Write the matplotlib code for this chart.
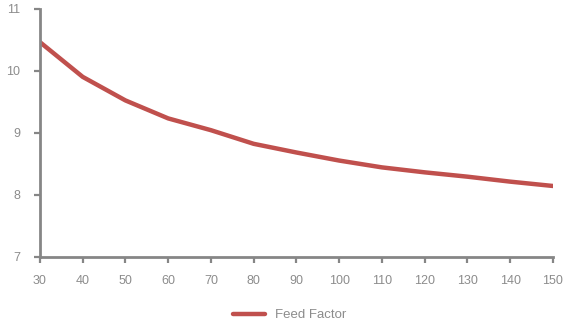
import matplotlib.pyplot as plt

plt.rcParams['font.family'] = ['Liberation Sans', 'DejaVu Sans']

# feed factor per x-verdi
x_vals = [30, 40, 50, 60, 70, 80, 90, 100, 110, 120, 130, 140, 150]
feed_factor = [10.46, 9.90, 9.52, 9.23, 9.04, 8.82, 8.68, 8.55, 8.44, 8.36, 8.29, 8.21, 8.14]

grey = "#868686"

fig = plt.figure(figsize=(5.63, 3.22), dpi=100)
ax = fig.add_axes([0.071, 0.203, 0.911, 0.770])

ax.plot(x_vals, feed_factor, color="#C0504D", linewidth=3.2,
        solid_capstyle="round", solid_joinstyle="round", label="Feed Factor")

ax.set_xlim(30, 150)
ax.set_ylim(7, 11)
ax.set_xticks(x_vals)
ax.set_yticks([7, 8, 9, 10, 11])

for side in ["top", "right"]:
    ax.spines[side].set_visible(False)
for side in ["left", "bottom"]:
    ax.spines[side].set_color(grey)
    ax.spines[side].set_linewidth(2)

ax.tick_params(axis="both", colors=grey, labelcolor="#8c8c8c", labelsize=9,
               length=4, width=1.6, direction="out")
ax.tick_params(axis="x", pad=9)
ax.tick_params(axis="y", pad=10)

leg = fig.legend(loc="lower center", bbox_to_anchor=(0.515, -0.035), frameon=False,
                 fontsize=9.5, handlelength=2.4, labelcolor="#8c8c8c")

fig.savefig("out.png", dpi=100)
